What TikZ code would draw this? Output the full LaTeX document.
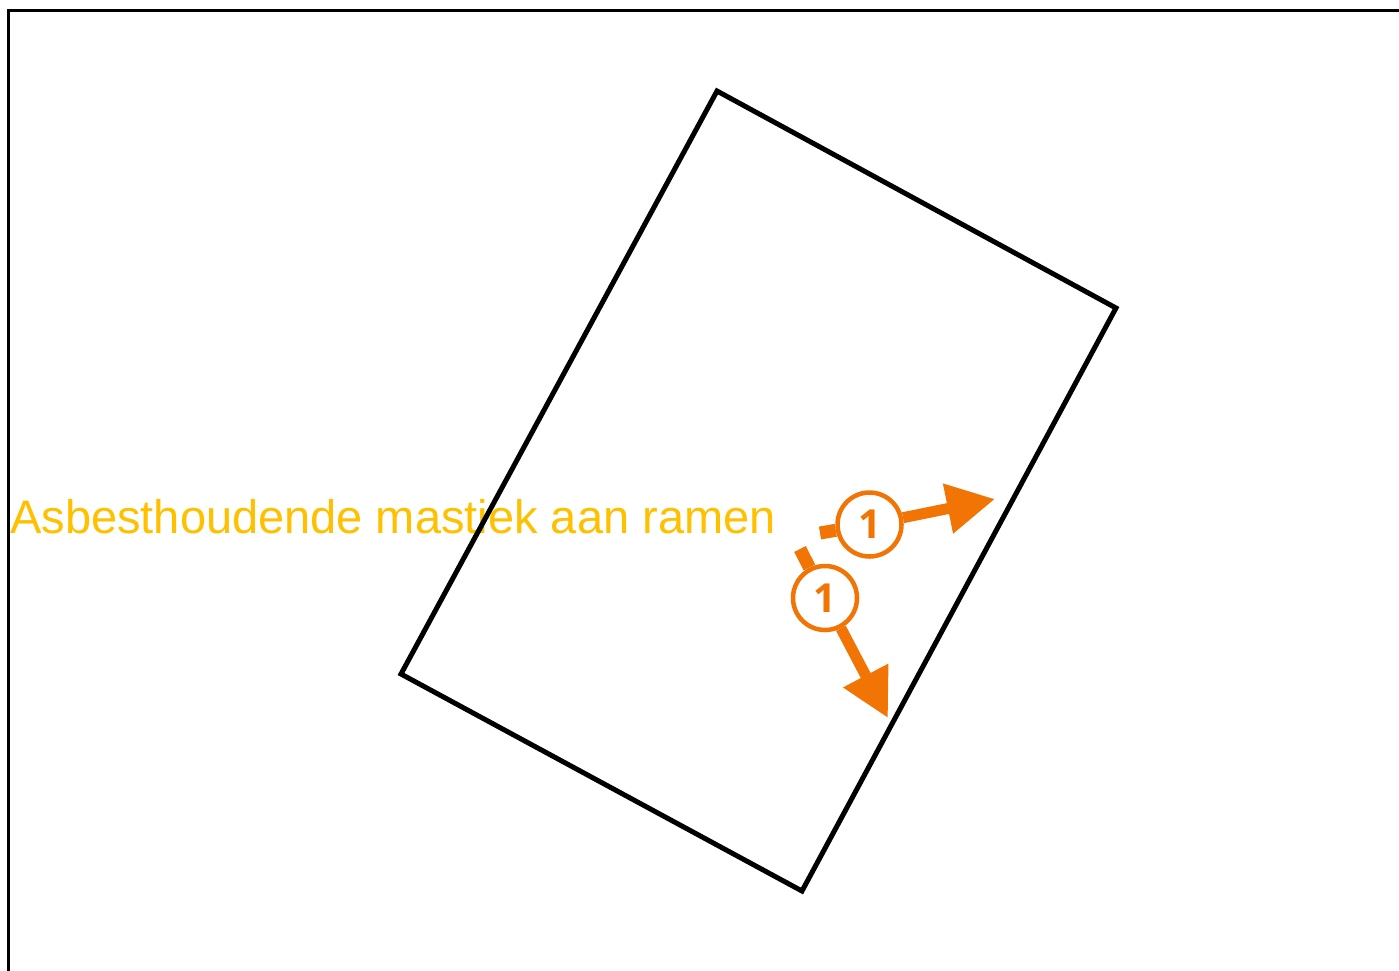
\documentclass[tikz,border=0pt]{standalone}
\usepackage{fontspec}
\setmainfont{Liberation Sans}
\newfontfamily\hotspotfont{Open Sans}
\usetikzlibrary{arrows.meta}
\definecolor{markorange}{RGB}{242,116,5}
\definecolor{labelgold}{RGB}{255,192,0}
\tikzset{pageframe/.style={draw=black,line width=3pt}}
\tikzset{building/.style={draw=black,line width=5pt,line join=miter}}
\tikzset{hotspot/.style={circle,fill=white,draw=markorange,text=markorange,line width=4.5pt,minimum size=64pt,inner sep=0pt,font=\hotspotfont\bfseries\fontsize{40}{40}\selectfont}}
\tikzset{hotspottail/.style={draw=markorange,line width=13pt}}
\tikzset{hotspotarrow/.style={draw=markorange,line width=11pt,-{Triangle[length=48pt,width=48pt]}}}
\tikzset{labeltext/.style={text=labelgold,font=\fontsize{47}{47}\selectfont,inner sep=0pt,anchor=base west}}
\begin{document}
\begin{tikzpicture}[x=1pt,y=-1pt]
    \useasboundingbox (0,0) rectangle (1399,970);
    \clip (0,0) rectangle (1399,970);
    \draw[pageframe] (8.5,1000) -- (8.5,10.5) -- (1420,10.5);

    \node[labeltext] (lbl) at (10,533) {Asbesthoudende mastiek aan ramen};

    \coordinate (bt) at (717,91);
    \coordinate (br) at (1116,308);
    \coordinate (bb) at (802,891);
    \coordinate (bl) at (401,674);
    \draw[building] (bt) -- (br) -- (bb) -- (bl) -- cycle;

    \node[hotspot] (m1) at (869.5,524.5) {1};
    \node[hotspot] (m2) at (825,598) {1};
    \coordinate (m1tail) at (820,533);
    \coordinate (m1tip)  at (995,499);
    \coordinate (m2tail) at (800,549);
    \coordinate (m2tip)  at (888,718);

    \draw[hotspottail]  (m1tail) -- (m1);
    \draw[hotspotarrow] (m1) -- (m1tip);
    \draw[hotspottail]  (m2tail) -- (m2);
    \draw[hotspotarrow] (m2) -- (m2tip);
\end{tikzpicture}
\end{document}
